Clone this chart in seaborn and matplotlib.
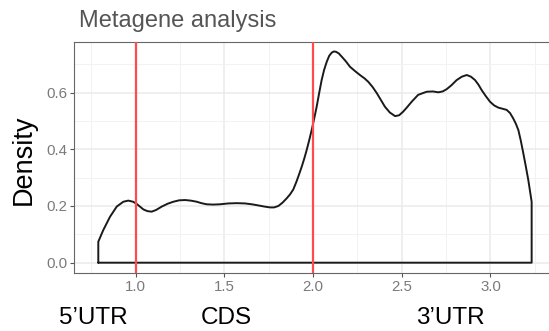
import numpy as np
import pandas as pd
import matplotlib
matplotlib.use("Agg")
import matplotlib.pyplot as plt
import seaborn as sns
from matplotlib.ticker import MultipleLocator

# ---- data ----
title = "Metagene analysis"
y_title = "Density"
region_labels = ["5\u2019UTR", "CDS", "3\u2019UTR"]
boundaries = [1.0, 2.0]
xticks = [1.0, 1.5, 2.0, 2.5, 3.0]
yticks = [0.0, 0.2, 0.4, 0.6]

position = [0.789, 0.817, 0.855, 0.893, 0.930, 0.958, 0.985, 1.006, 1.043, 1.065,
            1.090, 1.115, 1.147, 1.180, 1.212, 1.245, 1.278, 1.310, 1.344, 1.370,
            1.400, 1.437, 1.475, 1.522, 1.570, 1.616, 1.655, 1.691, 1.725, 1.757,
            1.780, 1.804, 1.828, 1.851, 1.870, 1.888, 1.905, 1.920, 1.936, 1.950,
            1.964, 1.978, 1.992, 2.006, 2.020, 2.034, 2.048, 2.062, 2.077, 2.091,
            2.105, 2.117, 2.129, 2.145, 2.161, 2.185, 2.208, 2.236, 2.264, 2.290,
            2.311, 2.335, 2.359, 2.382, 2.405, 2.432, 2.462, 2.485, 2.508, 2.532,
            2.556, 2.592, 2.640, 2.675, 2.706, 2.730, 2.753, 2.780, 2.809, 2.838,
            2.866, 2.890, 2.913, 2.932, 2.950, 2.973, 2.997, 3.020, 3.044, 3.068,
            3.091, 3.110, 3.128, 3.143, 3.157, 3.171, 3.185, 3.199, 3.213, 3.232]
density = [0.074, 0.115, 0.162, 0.198, 0.215, 0.219, 0.215, 0.207, 0.188, 0.182,
           0.180, 0.186, 0.198, 0.208, 0.215, 0.220, 0.221, 0.219, 0.215, 0.210,
           0.206, 0.205, 0.206, 0.209, 0.210, 0.209, 0.206, 0.202, 0.198, 0.195,
           0.195, 0.200, 0.212, 0.227, 0.241, 0.258, 0.284, 0.310, 0.339, 0.367,
           0.398, 0.432, 0.468, 0.508, 0.550, 0.598, 0.644, 0.680, 0.709, 0.730,
           0.741, 0.745, 0.744, 0.738, 0.727, 0.710, 0.691, 0.676, 0.662, 0.650,
           0.638, 0.620, 0.598, 0.574, 0.550, 0.530, 0.517, 0.520, 0.533, 0.550,
           0.568, 0.592, 0.603, 0.604, 0.601, 0.604, 0.612, 0.626, 0.644, 0.656,
           0.662, 0.656, 0.644, 0.628, 0.609, 0.588, 0.568, 0.555, 0.547, 0.543,
           0.539, 0.528, 0.509, 0.490, 0.468, 0.430, 0.386, 0.340, 0.292, 0.215]

# outline like geom_density: up from baseline, curve, down, back along baseline
outline = pd.DataFrame({
    "x": [position[0]] + position + [position[-1], position[0]],
    "y": [0.0] + density + [0.0, 0.0],
})

sns.set_theme(style="white")
plt.rcParams["font.family"] = ["Liberation Sans", "DejaVu Sans"]

W, H = 549, 331
fig = plt.figure(figsize=(W / 100, H / 100), dpi=100)
ax = fig.add_axes([74 / W, (H - 272.7) / H, 480 / W, (272.7 - 41.7) / H])

ax.set_xlim(0.652, 3.358)
ax.set_ylim(-0.0353, 0.7795)

ax.xaxis.set_major_locator(plt.FixedLocator(xticks))
ax.yaxis.set_major_locator(plt.FixedLocator(yticks))
ax.xaxis.set_minor_locator(MultipleLocator(0.25))
ax.yaxis.set_minor_locator(MultipleLocator(0.1))
ax.set_xticklabels([f"{v:.1f}" for v in xticks])
ax.set_yticklabels([f"{v:.1f}" for v in yticks])

ax.grid(True, which="major", color="#EBEBEB", lw=1.1, zorder=0)
ax.grid(True, which="minor", color="#F2F2F2", lw=0.7, zorder=0)
ax.set_axisbelow(True)

sns.lineplot(data=outline, x="x", y="y", sort=False, estimator=None,
             color="#1a1a1a", lw=1.4, ax=ax, zorder=3)
for ln in ax.get_lines():
    ln.set_solid_joinstyle("round")
    ln.set_solid_capstyle("round")
for b in boundaries:
    ax.axvline(b, color="#FF4B4B", lw=1.6, zorder=4)

ax.tick_params(which="major", length=3, width=0.8, color="#555555",
               labelcolor="#7a7a7a", labelsize=10.8, pad=2,
               bottom=True, left=True)
ax.tick_params(which="minor", length=0)
for s in ax.spines.values():
    s.set_color("#666666")
    s.set_linewidth(0.8)
ax.set_xlabel("")
ax.set_ylabel("")

fig.text(79 / W, 1 - 26.7 / H, title, ha="left", va="baseline",
         fontsize=17, color="#555555")
fig.text(24 / W, 1 - 160 / H, y_title, rotation=90, ha="center", va="center",
         fontsize=19.5, color="black")
for lab, cx in zip(region_labels, [93.8, 226, 450]):
    fig.text(cx / W, 1 - 324 / H, lab, ha="center", va="baseline",
             fontsize=17.5, color="black")

fig.savefig("out.png", dpi=100)
